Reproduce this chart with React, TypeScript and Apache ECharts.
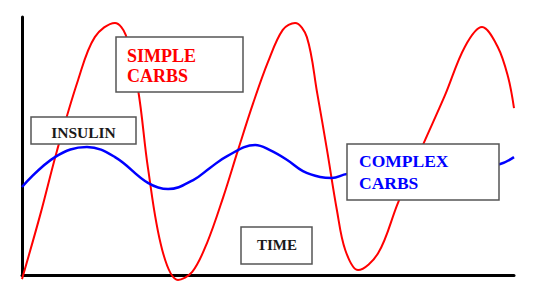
import React, { useEffect, useRef } from "react";
import * as echarts from "echarts";

// Time axis (0-100) and level (0-100)
const simpleTime = [0, 3.7, 7.1, 11.4, 14.8, 18.9, 21.1, 23.6, 25.6, 28.5, 31.7, 34.6, 37.6, 40.9, 43.9, 47.0, 50.0, 53.0, 55.5, 57.9, 60.0, 62.0, 64.0, 65.7, 68.3, 72.4, 76.4, 81.3, 86.0, 90.0, 93.5, 96.7, 98.8, 100];
const simpleLevel = [-1.6, 23.3, 48.1, 75.6, 92.2, 97.7, 93.0, 71.7, 41.5, 9.7, -1.9, 1.2, 12.4, 30.2, 48.4, 66.7, 82.6, 95.0, 97.7, 92.2, 70.5, 48.4, 25.2, 9.7, 1.9, 8.5, 27.9, 49.6, 69.8, 88.4, 96.1, 88.4, 76.7, 64.7];

const complexTime = [0, 6.7, 13.2, 18.9, 25.6, 29.7, 34.8, 38.2, 41.7, 47.4, 50.4, 53.9, 57.1, 60.6, 63.0, 66.1, 80.9, 91.1, 97.2, 100];
const complexLevel = [34.1, 45.7, 49.6, 45.7, 35.7, 33.3, 36.8, 41.5, 46.1, 50.4, 48.4, 44.6, 40.3, 38.0, 37.6, 39.1, 39.9, 40.7, 43.0, 45.7];

const labels = {
  simple: ["SIMPLE", "CARBS"],
  complex: ["COMPLEX", "CARBS"],
  insulin: "INSULIN",
  time: "TIME",
};

const SERIF = '"Liberation Serif", "Times New Roman", serif';

function box(x: number, y: number, w: number, h: number) {
  return {
    type: "rect",
    shape: { x, y, width: w, height: h },
    style: { fill: "#ffffff", stroke: "#555555", lineWidth: 1.5 },
    z: 100,
  };
}

function txt(text: string, x: number, y: number, size: number, color: string, align: string) {
  return {
    type: "text",
    x,
    y,
    style: {
      text,
      fill: color,
      font: `bold ${size}px ${SERIF}`,
      align,
      verticalAlign: "middle",
    },
    z: 101,
  };
}

export default function App() {
  const ref = useRef<HTMLDivElement>(null);
  useEffect(() => {
    if (!ref.current) return;
    const chart = echarts.init(ref.current, null, { renderer: "svg" });
    chart.setOption({
      animation: false,
      backgroundColor: "#ffffff",
      grid: { left: 22, top: 17, right: 23, bottom: 23 },
      xAxis: {
        type: "value",
        min: 0,
        max: 100,
        axisLine: { show: true, lineStyle: { color: "#000", width: 3 } },
        axisTick: { show: false },
        axisLabel: { show: false },
        splitLine: { show: false },
      },
      yAxis: {
        type: "value",
        min: 0,
        max: 100,
        axisLine: { show: true, lineStyle: { color: "#000", width: 3 } },
        axisTick: { show: false },
        axisLabel: { show: false },
        splitLine: { show: false },
      },
      series: [
        {
          type: "line",
          data: simpleTime.map((t, i) => [t, simpleLevel[i]]),
          smooth: 0.35,
          showSymbol: false,
          clip: false,
          lineStyle: { color: "#ff0000", width: 2 },
        },
        {
          type: "line",
          data: complexTime.map((t, i) => [t, complexLevel[i]]),
          smooth: 0.4,
          showSymbol: false,
          clip: false,
          lineStyle: { color: "#0000ff", width: 2.5 },
        },
      ],
      graphic: [
        box(116, 37, 127, 55),
        txt(labels.simple[0], 127, 56, 18, "#ff0000", "left"),
        txt(labels.simple[1], 127, 76, 18, "#ff0000", "left"),
        box(31, 117, 105, 27),
        txt(labels.insulin, 83.5, 132, 15.5, "#1a1a1a", "center"),
        box(347, 144, 152, 56),
        txt(labels.complex[0], 359, 161, 17.5, "#0000ff", "left"),
        txt(labels.complex[1], 359, 182.5, 17.5, "#0000ff", "left"),
        box(241, 227, 71, 37),
        txt(labels.time, 277, 245, 15, "#1a1a1a", "center"),
      ],
    });
    return () => chart.dispose();
  }, []);
  return (
    <div
      ref={ref}
      style={{ position: "fixed", left: 0, top: 0, width: 537, height: 298 }}
    />
  );
}
